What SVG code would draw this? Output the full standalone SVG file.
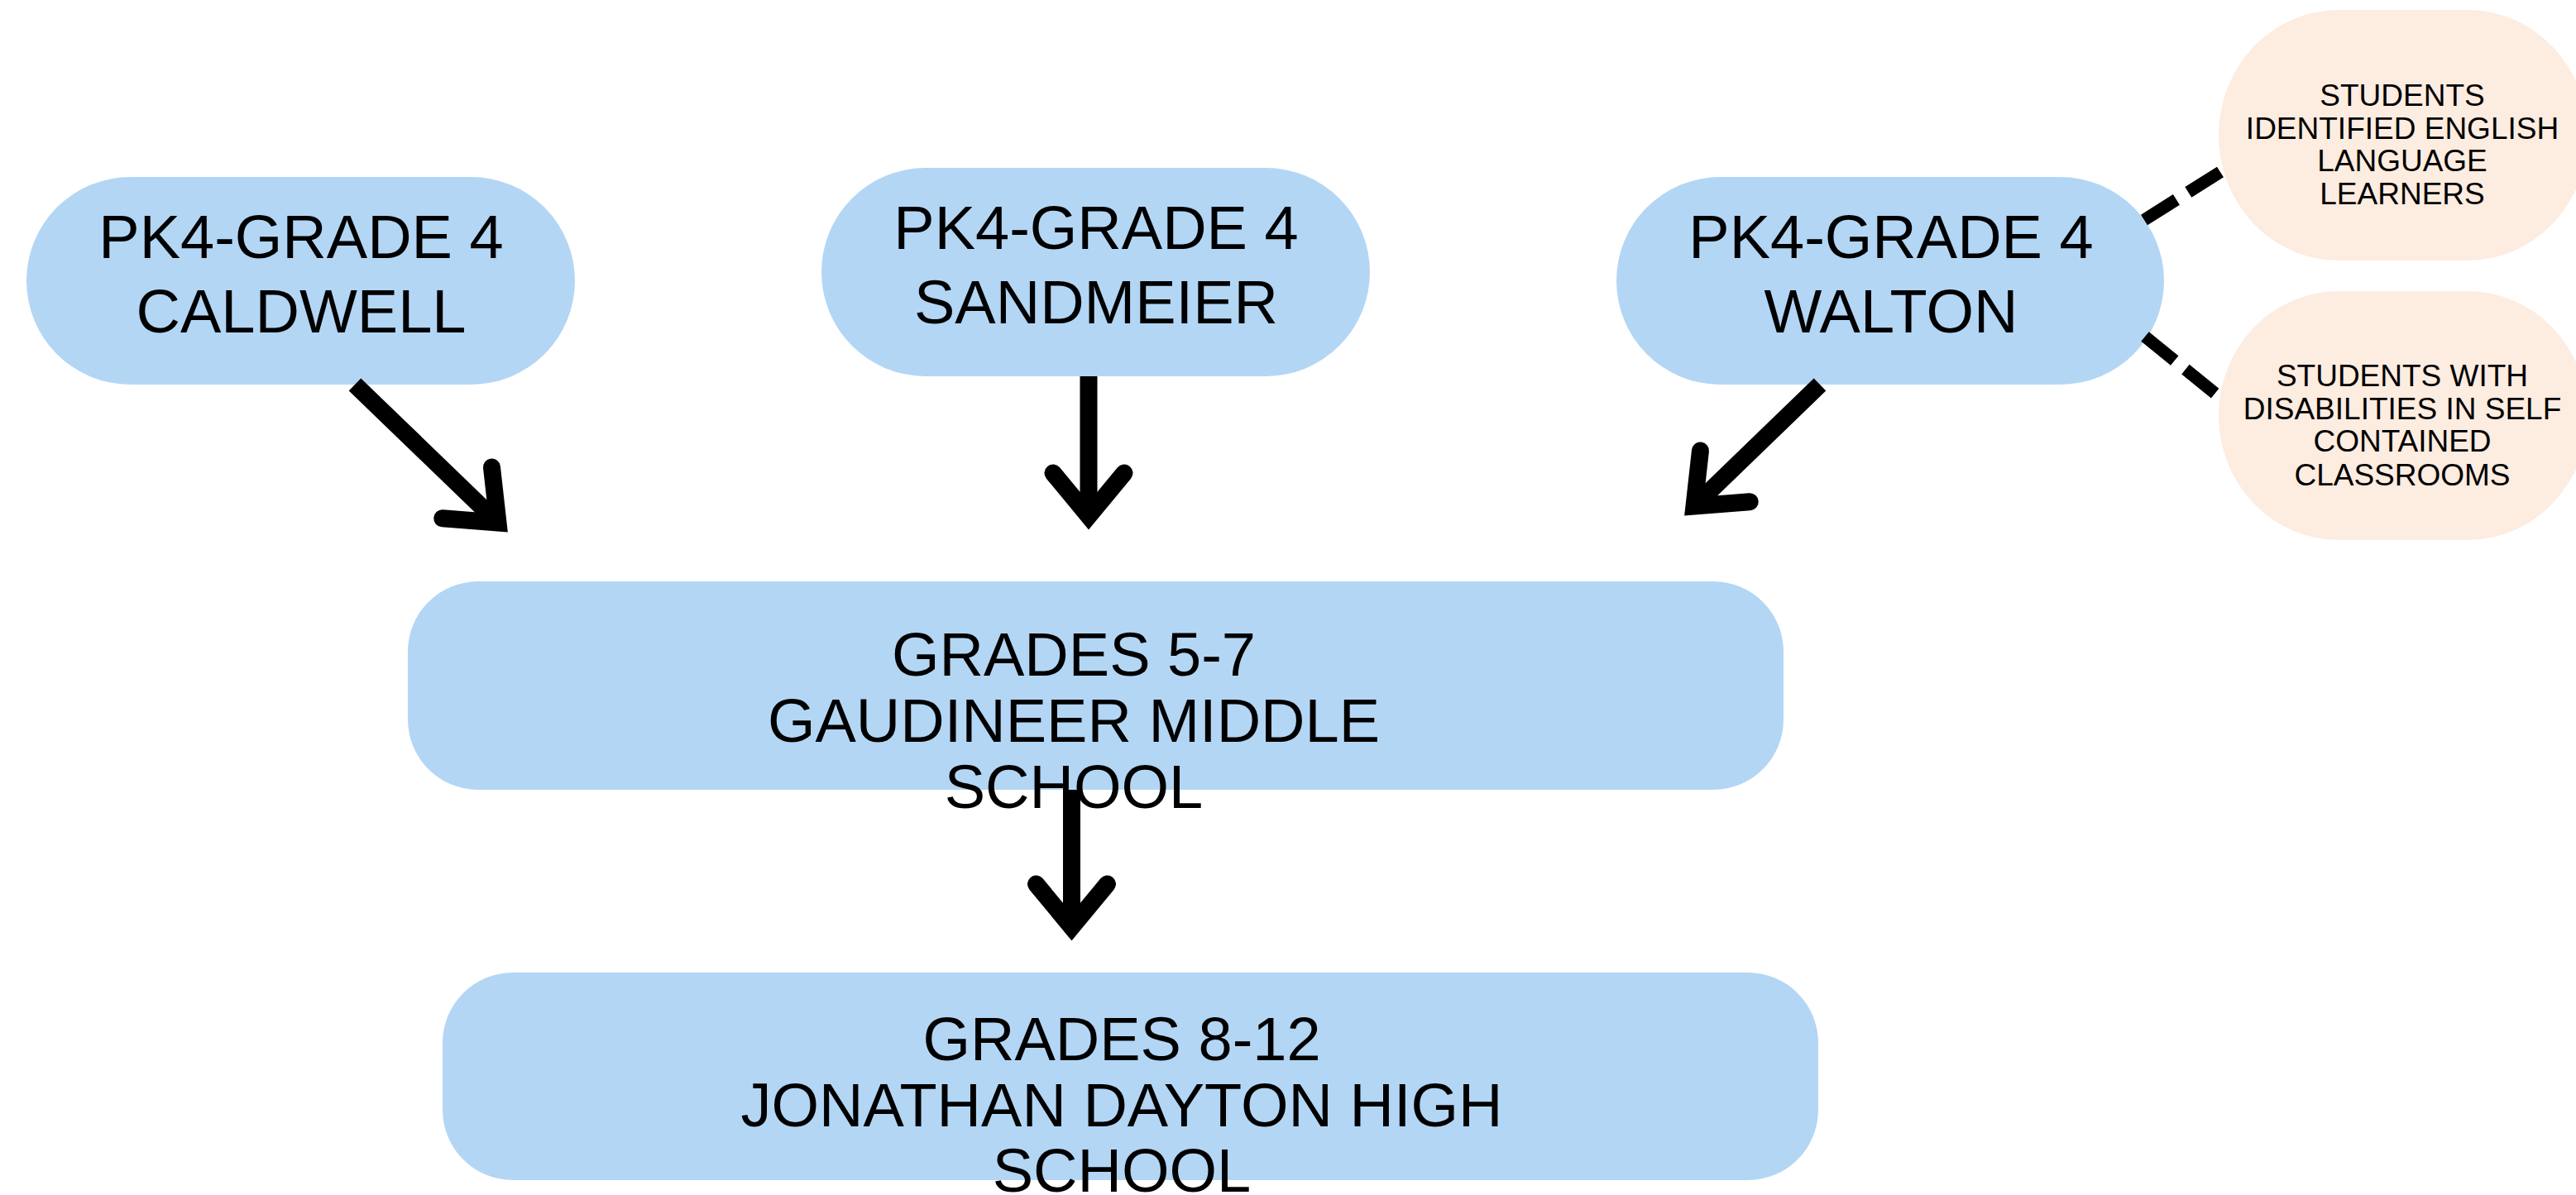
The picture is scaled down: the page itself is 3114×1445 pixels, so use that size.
<svg xmlns="http://www.w3.org/2000/svg" width="3114" height="1445" viewBox="0 0 3114 1445">
  <style>
    .blue { fill: #b3d6f5; }
    .peach { fill: #fdece0; }
    .big { font-family: "Liberation Sans", Arial, Helvetica, sans-serif; font-size: 74px; fill: #000; text-anchor: middle; }
    .small { font-family: "Liberation Sans", Arial, Helvetica, sans-serif; font-size: 37px; fill: #000; text-anchor: middle; }
    .solid { fill: none; stroke: #000; stroke-width: 21; marker-end: url(#arrow); }
    .dashed { fill: none; stroke: #000; stroke-width: 15; stroke-dasharray: 46 17; }
  </style>
  <defs>
    <marker id="arrow" markerUnits="userSpaceOnUse" orient="auto" viewBox="-80 -70 100 140" markerWidth="100" markerHeight="140" refX="0" refY="0">
      <path d="M-52,-43 L0,0 L-52,43" fill="none" stroke="#000" stroke-width="21" stroke-linecap="round" stroke-linejoin="miter" stroke-miterlimit="10"/>
    </marker>
  </defs>
  <rect x="0" y="0" width="3114" height="1445" fill="#ffffff"/>

  <g id="caldwell">
    <rect class="blue" x="32" y="214" width="663" height="251" rx="125.5" ry="125.5"/>
    <text class="big" x="364" y="312">PK4-GRADE 4</text>
    <text class="big" x="364" y="402">CALDWELL</text>
  </g>
  <g id="sandmeier">
    <rect class="blue" x="993" y="203" width="663" height="252" rx="126" ry="126"/>
    <text class="big" x="1325" y="301">PK4-GRADE 4</text>
    <text class="big" x="1325" y="391">SANDMEIER</text>
  </g>
  <g id="walton">
    <rect class="blue" x="1954" y="214" width="662" height="251" rx="125.5" ry="125.5"/>
    <text class="big" x="2286" y="312">PK4-GRADE 4</text>
    <text class="big" x="2286" y="402">WALTON</text>
  </g>
  <g id="ell">
    <rect class="peach" x="2682" y="12" width="446" height="303" rx="145" ry="151.5"/>
    <text class="small" x="2904" y="128">STUDENTS</text>
    <text class="small" x="2904" y="168">IDENTIFIED ENGLISH</text>
    <text class="small" x="2904" y="207">LANGUAGE</text>
    <text class="small" x="2904" y="247">LEARNERS</text>
  </g>
  <g id="swd">
    <rect class="peach" x="2682" y="352" width="446" height="301" rx="145" ry="150.5"/>
    <text class="small" x="2904" y="467">STUDENTS WITH</text>
    <text class="small" x="2904" y="507">DISABILITIES IN SELF</text>
    <text class="small" x="2904" y="546">CONTAINED</text>
    <text class="small" x="2904" y="587">CLASSROOMS</text>
  </g>
  <g id="gaudineer">
    <rect class="blue" x="493" y="703" width="1663" height="252" rx="85" ry="85"/>
    <text class="big" x="1298" y="817">GRADES 5-7</text>
    <text class="big" x="1298" y="897">GAUDINEER MIDDLE</text>
    <text class="big" x="1298" y="977">SCHOOL</text>
  </g>
  <g id="dayton">
    <rect class="blue" x="535" y="1176" width="1663" height="251" rx="85" ry="85"/>
    <text class="big" x="1356" y="1282">GRADES 8-12</text>
    <text class="big" x="1356" y="1362">JONATHAN DAYTON HIGH</text>
    <text class="big" x="1356" y="1441">SCHOOL</text>
  </g>

  <g id="connectors">
    <path class="solid" d="M429,465 L602,632"/>
    <path class="solid" d="M1316,455 L1316,624"/>
    <path class="solid" d="M2200,465 L2048,612"/>
    <path class="solid" d="M1295.5,955 L1295.5,1121"/>
    <path class="dashed" d="M2592,266 L2684,208"/>
    <path class="dashed" d="M2593,407 L2683,480"/>
  </g>
</svg>
